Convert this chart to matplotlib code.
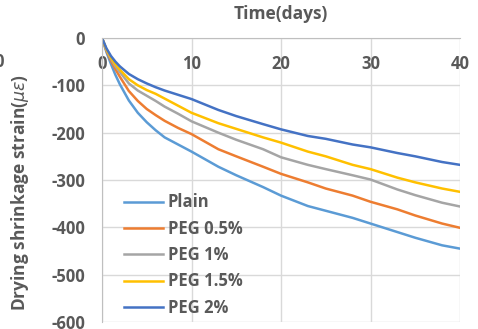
import numpy as np
import matplotlib.pyplot as plt

plt.rcParams['font.family'] = ['Open Sans', 'DejaVu Sans']
plt.rcParams['axes.unicode_minus'] = False

days = [0, 0.5, 1, 1.5, 2, 3, 4, 5, 6, 7, 8.5, 10, 13, 15, 18, 20, 23, 25, 28, 30, 33, 35, 38, 40]
plain = [0, -30, -55, -78, -98, -132, -158, -178, -195, -210, -225, -240, -272, -290, -315, -333, -355, -365, -380, -392, -410, -422, -438, -445]
peg05 = [0, -27, -48, -66, -82, -112, -133, -150, -163, -175, -190, -203, -235, -250, -272, -287, -305, -318, -333, -346, -362, -375, -392, -401]
peg1 = [0, -25, -44, -60, -72, -96, -111, -122, -133, -145, -160, -176, -200, -215, -235, -252, -268, -277, -290, -299, -320, -332, -348, -356]
peg15 = [0, -24, -42, -56, -67, -87, -100, -110, -118, -128, -143, -158, -180, -192, -210, -221, -240, -250, -268, -277, -295, -305, -318, -325]
peg2 = [0, -22, -38, -50, -60, -76, -87, -96, -104, -111, -120, -129, -152, -165, -182, -193, -207, -213, -225, -231, -243, -250, -262, -268]

labels = ['Plain', 'PEG 0.5%', 'PEG 1%', 'PEG 1.5%', 'PEG 2%']
colors = ['#5B9BD5', '#ED7D31', '#A5A5A5', '#FFC000', '#4472C4']
txt = '#595959'

fig = plt.figure(figsize=(4.78, 3.29), dpi=100)
ax = fig.add_axes([102/478, 1-322/329, 358/478, 284/329])

for y, lab, c in zip([plain, peg05, peg1, peg15, peg2], labels, colors):
    ax.plot(days, y, color=c, lw=1.8, label=lab)

ax.set_xlim(0, 40)
ax.set_ylim(-600, 0)
ax.set_xticks(np.arange(0, 41, 10))
ax.set_yticks(np.arange(-600, 1, 100))
ax.grid(True, color='#D9D9D9', lw=1)
ax.set_axisbelow(True)
for s in ['right', 'bottom']:
    ax.spines[s].set_visible(False)
for s in ['left', 'top']:
    ax.spines[s].set_color('#BFBFBF')
ax.tick_params(axis='x', top=True, labeltop=True, bottom=False, labelbottom=False,
               length=0, pad=-25, labelsize=12, labelcolor=txt)
ax.tick_params(axis='y', length=0, pad=12, labelsize=12, labelcolor=txt)
for t in ax.get_xticklabels() + ax.get_yticklabels():
    t.set_fontweight('bold')

fig.text(281/478, 1-14/329, 'Time(days)', ha='center', va='center',
         fontsize=12.5, fontweight='bold', color=txt)
fig.text(20/478, 1-193/329, r'Drying shrinkage strain($\mu\varepsilon$)', rotation=90,
         ha='center', va='center', fontsize=12.5, fontweight='bold', color=txt)
fig.text(4/478, 1-62/329, '0', ha='right', va='center', fontsize=12,
         fontweight='bold', color=txt)

leg = ax.legend(loc='upper left', bbox_to_anchor=(116/478, 1-185/329),
                bbox_transform=fig.transFigure, frameon=False, borderpad=0,
                handlelength=2.3, handletextpad=0.3, labelspacing=0.5,
                prop={'size': 12, 'weight': 'bold'})
for t in leg.get_texts():
    t.set_color(txt)

fig.savefig('out.png', dpi=100)
